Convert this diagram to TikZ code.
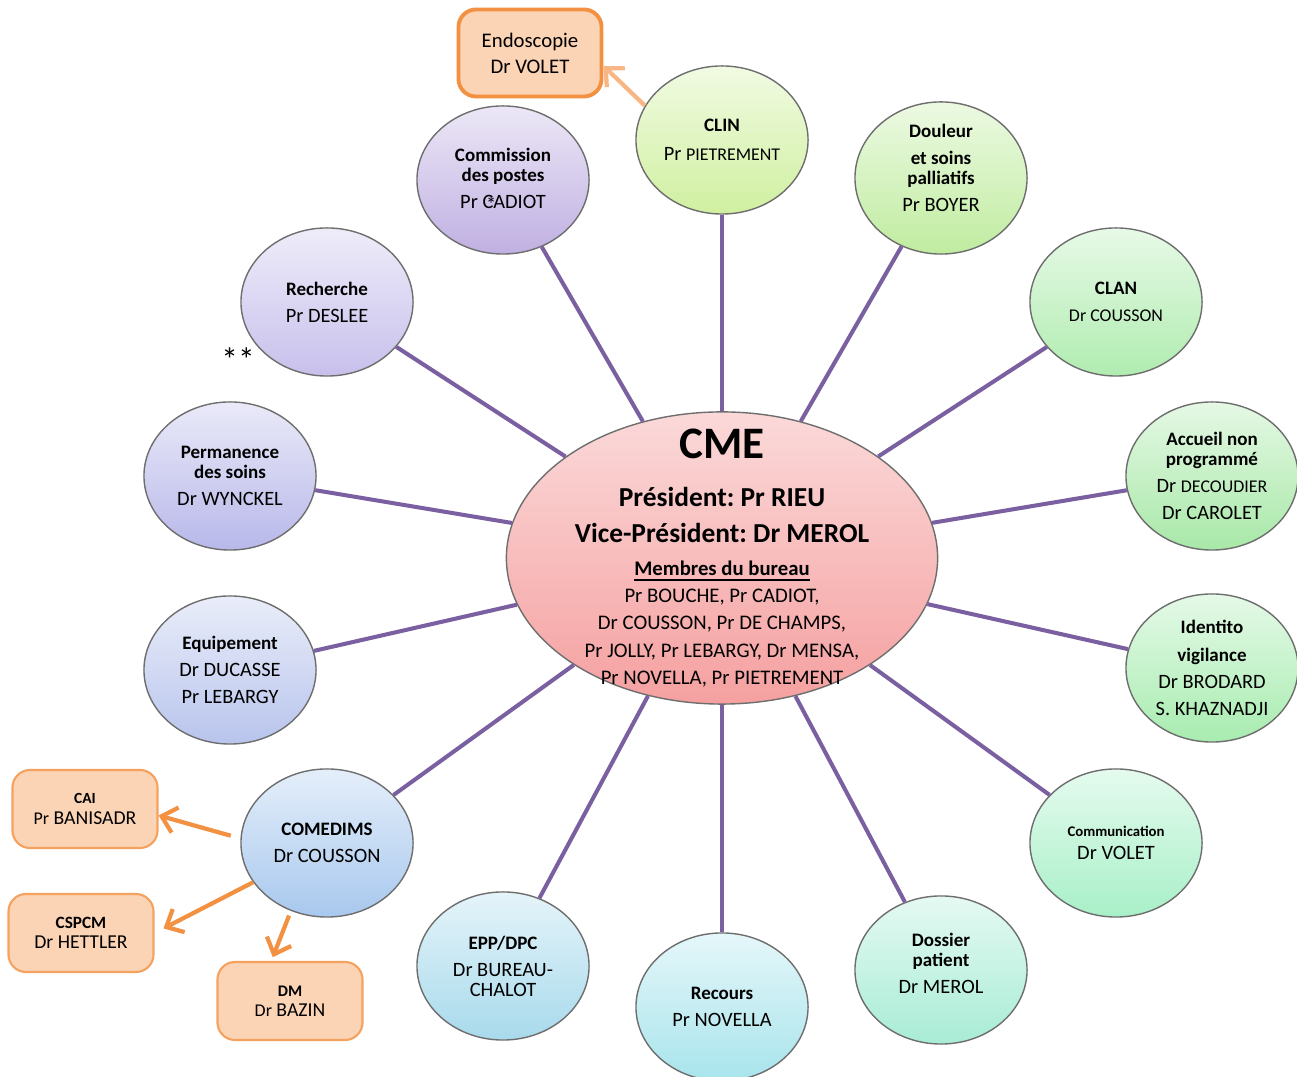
\documentclass[tikz,border=0pt]{standalone}
\usepackage{fontspec}
\setmainfont{Carlito}
\frenchspacing
\usetikzlibrary{arrows.meta,shapes.geometric}
\definecolor{plum}{RGB}{122,96,160}
\definecolor{rim}{RGB}{110,110,110}
\definecolor{peach}{RGB}{251,211,181}
\definecolor{tangerine}{RGB}{243,145,66}
\definecolor{apricot}{RGB}{248,182,132}
\definecolor{blush}{RGB}{245,160,160}
\definecolor{cCommission}{RGB}{192,176,226}
\definecolor{cRecherche}{RGB}{200,192,236}
\definecolor{cPermanence}{RGB}{184,184,234}
\definecolor{cEquipement}{RGB}{184,196,236}
\definecolor{cComedims}{RGB}{168,200,238}
\definecolor{cEpp}{RGB}{168,218,236}
\definecolor{cRecours}{RGB}{168,228,236}
\definecolor{cDossier}{RGB}{168,236,214}
\definecolor{cCommunication}{RGB}{168,240,200}
\definecolor{cIdentito}{RGB}{168,236,176}
\definecolor{cAccueil}{RGB}{168,232,168}
\definecolor{cClan}{RGB}{176,236,176}
\definecolor{cDouleur}{RGB}{192,236,160}
\definecolor{cClin}{RGB}{208,240,160}
\tikzset{
  >={Straight Barb[length=1.4mm,width=2.6mm]},
  bubble/.style={ellipse,draw=rim,thin,top color=#1!30!white,bottom color=#1,
    minimum width=17.2mm,minimum height=14.8mm,inner sep=0pt,align=center,
    font=\fontsize{5.8}{7.7}\selectfont},
  bubble/.default=cCommission,
  hub/.style={ellipse,draw=rim,thin,top color=blush!40!white,bottom color=blush,
    minimum width=43.1mm,minimum height=29.2mm,inner xsep=-2mm,inner ysep=-2.9mm,
    align=center,font=\fontsize{5.9}{7.8}\selectfont},
  sub/.style={draw=tangerine!85,fill=peach,line width=0.6pt,rounded corners=5pt,
    minimum width=14.5mm,minimum height=7.8mm,inner sep=1pt,align=center,
    font=\fontsize{5.6}{5.7}\selectfont},
  spoke/.style={draw=plum,line width=1.15pt},
  feed/.style={->,line width=1.2pt,draw=#1},
  feed/.default=tangerine,
}
\newcommand\ttl[1]{{\fontsize{5.4}{5.7}\selectfont\bfseries #1}}
\newcommand\sm[1]{{\fontsize{5.1}{5.7}\selectfont #1}}
\begin{document}
\begin{tikzpicture}[x=0.01cm,y=-0.01cm]
  \useasboundingbox (0,0) rectangle (1297,1077);
  % centre
  \node[hub] (cme) at (722,558) {{\fontsize{12.8}{13}\selectfont\bfseries CME}\\[6pt]
    {\fontsize{7.8}{8}\selectfont\bfseries Président: Pr RIEU}\\[2.5pt]
    {\fontsize{7.8}{8}\selectfont\bfseries Vice-Président: Dr MEROL}\\[1.4pt]
    \textbf{\underline{Membres du bureau}}\\
    Pr BOUCHE, Pr CADIOT,\\
    Dr COUSSON, Pr DE CHAMPS,\\
    Pr JOLLY, Pr LEBARGY, Dr MENSA,\\
    Pr NOVELLA, Pr PIETREMENT};
  % commissions
  \node[bubble=cClin] (clin) at (722,140) {\ttl{CLIN}\\[0.5pt]Pr \sm{PIETREMENT}};
  \node[bubble=cDouleur] (douleur) at (941,178) {\ttl{Douleur}\\\ttl{et soins}\\[-2pt]\ttl{palliatifs}\\Pr BOYER\\[-2pt]\mbox{}};
  \node[bubble=cClan] (clan) at (1116,302) {\ttl{CLAN}\\\sm{Dr COUSSON}};
  \node[bubble=cAccueil] (accueil) at (1212,476) {\ttl{Accueil non}\\[-2pt]\ttl{programmé}\\Dr \sm{DECOUDIER}\\Dr CAROLET};
  \node[bubble=cIdentito] (identito) at (1212,668) {\ttl{Identito}\\\ttl{vigilance}\\Dr BRODARD\\S. KHAZNADJI};
  \node[bubble=cCommunication] (communication) at (1116,843) {{\fontsize{4.2}{5}\selectfont\bfseries Communication}\\[-1.2pt]Dr VOLET};
  \node[bubble=cDossier] (dossier) at (941,970) {\ttl{Dossier}\\[-2pt]\ttl{patient}\\Dr MEROL\\[-4pt]\mbox{}};
  \node[bubble=cRecours] (recours) at (722,1007) {\ttl{Recours}\\Pr NOVELLA};
  \node[bubble=cEpp] (epp) at (503,966) {\ttl{EPP/DPC}\\Dr BUREAU-\\[-2pt]CHALOT};
  \node[bubble=cComedims] (comedims) at (327,843) {\ttl{COMEDIMS}\\Dr COUSSON};
  \node[bubble=cEquipement] (equipement) at (230,670) {\ttl{Equipement}\\Dr DUCASSE\\Pr LEBARGY};
  \node[bubble=cPermanence] (permanence) at (230,476) {\ttl{Permanence}\\[-2pt]\ttl{des soins}\\Dr WYNCKEL};
  \node[bubble=cRecherche] (recherche) at (327,302) {\ttl{Recherche}\\Pr DESLEE};
  \node[bubble=cCommission] (commission) at (503,180) {\ttl{Commission}\\[-2pt]\ttl{des postes}\\Pr C\rlap{\kern-0.35em\raisebox{-0.35ex}{*}}ADIOT};
  \node[font=\fontsize{9.5}{9.5}\selectfont] (stars) at (238,360) {**};
  \foreach \s in {clin,douleur,clan,accueil,identito,communication,dossier,
    recours,epp,comedims,equipement,permanence,recherche,commission}
    \draw[spoke] (cme) -- (\s);
  % sub-groups
  \node[sub,draw=tangerine,line width=1.1pt,minimum width=14.3mm,minimum height=8.7mm,
    font=\fontsize{5.9}{7.4}\selectfont] (endo) at (530,53) {Endoscopie\\Dr VOLET};
  \node[sub] (cai) at (85,809) {{\fontsize{4.4}{5}\selectfont\bfseries CAI}\\\sm{Pr} BANISADR};
  \node[sub] (cspcm) at (81,933) {{\fontsize{4.9}{5}\selectfont\bfseries CSPCM}\\Dr HETTLER};
  \node[sub] (dm) at (290,1001) {{\fontsize{4.6}{5}\selectfont\bfseries DM}\\\sm{Dr} BAZIN};
  \draw[feed=apricot] (clin.156) -- (endo.-10);
  \draw[feed,shorten <=1mm] (comedims.177) -- (cai.-5);
  \draw[feed,shorten >=1mm] (comedims.208) -- (cspcm.east);
  \draw[feed,shorten <=0.5mm,shorten >=0.4mm] (comedims.242) -- (dm.115);
\end{tikzpicture}
\end{document}
